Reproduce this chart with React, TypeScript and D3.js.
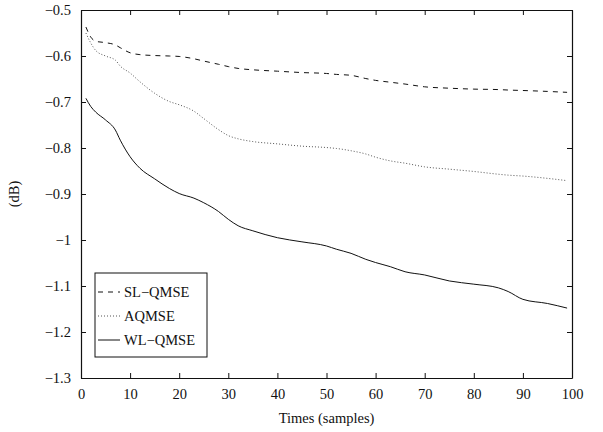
import React, { useEffect, useRef } from "react";
import * as d3 from "d3";

// sample positions and read-off values (dB)
const samples = [1, 2, 3, 5, 7, 8, 10, 12, 15, 18, 20, 23, 25, 28, 30, 32, 35, 40, 45, 50, 52, 55, 58, 60, 63, 66, 70, 75, 80, 85, 87, 90, 95, 99];
const slQmse = [-0.537, -0.559, -0.568, -0.571, -0.576, -0.582, -0.593, -0.597, -0.599, -0.6, -0.601, -0.606, -0.611, -0.618, -0.623, -0.627, -0.63, -0.633, -0.636, -0.638, -0.64, -0.642, -0.649, -0.653, -0.657, -0.661, -0.667, -0.67, -0.672, -0.673, -0.674, -0.675, -0.677, -0.679];
const aQmse = [-0.55, -0.572, -0.588, -0.6, -0.609, -0.622, -0.637, -0.656, -0.681, -0.699, -0.706, -0.72, -0.736, -0.76, -0.773, -0.78, -0.786, -0.791, -0.796, -0.799, -0.801, -0.806, -0.813, -0.82, -0.828, -0.833, -0.841, -0.846, -0.851, -0.857, -0.859, -0.861, -0.866, -0.871];
const wlQmse = [-0.692, -0.71, -0.722, -0.739, -0.761, -0.783, -0.819, -0.844, -0.867, -0.888, -0.899, -0.909, -0.919, -0.938, -0.955, -0.969, -0.98, -0.995, -1.004, -1.013, -1.02, -1.029, -1.042, -1.049, -1.058, -1.069, -1.076, -1.089, -1.096, -1.104, -1.112, -1.129, -1.138, -1.148];

const seriesNames = ["SL\u2212QMSE", "AQMSE", "WL\u2212QMSE"];
const xTicks = [0, 10, 20, 30, 40, 50, 60, 70, 80, 90, 100];
const yTicks = [-0.5, -0.6, -0.7, -0.8, -0.9, -1, -1.1, -1.2, -1.3];
const yTickLabels = ["\u22120.5", "\u22120.6", "\u22120.7", "\u22120.8", "\u22120.9", "\u22121", "\u22121.1", "\u22121.2", "\u22121.3"];

export default function App() {
  const ref = useRef<SVGSVGElement>(null);

  useEffect(() => {
    const width = 603;
    const height = 432;
    const left = 81, right = 572, top = 10, bottom = 378;
    const font = "'Liberation Serif', 'DejaVu Serif', serif";
    const fs = "14.5px";

    const svg = d3.select(ref.current);
    svg.selectAll("*").remove();
    svg.attr("width", width).attr("height", height).style("font-family", font);

    const x = d3.scaleLinear().domain([0, 100]).range([left, right]);
    const y = d3.scaleLinear().domain([-1.3, -0.5]).range([bottom, top]);

    const styles = [
      { dash: "5,5", color: "#111", w: 1 },
      { dash: "1,2", color: "#555", w: 1 },
      { dash: null, color: "#111", w: 1 },
    ];
    const all = [slQmse, aQmse, wlQmse];

    const line = d3
      .line<number>()
      .x((d, i) => x(samples[i]))
      .y((d) => y(d))
      .curve(d3.curveMonotoneX);

    all.forEach((vals, k) => {
      svg
        .append("path")
        .datum(vals)
        .attr("fill", "none")
        .attr("stroke", styles[k].color)
        .attr("stroke-width", styles[k].w)
        .attr("stroke-dasharray", styles[k].dash)
        .attr("d", line);
    });

    // axes, ticks pointing inward
    const fmtY = (d: any, i: number) => yTickLabels[i];
    const bottomAx = svg
      .append("g")
      .attr("transform", `translate(0,${bottom})`)
      .call(d3.axisBottom(x).tickValues(xTicks).tickSizeInner(-5).tickSizeOuter(0).tickPadding(11).tickFormat(d3.format("d")));
    const topAx = svg
      .append("g")
      .attr("transform", `translate(0,${top})`)
      .call(d3.axisTop(x).tickValues(xTicks).tickSizeInner(-5).tickSizeOuter(0).tickFormat(() => ""));
    const leftAx = svg
      .append("g")
      .attr("transform", `translate(${left},0)`)
      .call(d3.axisLeft(y).tickValues(yTicks).tickSizeInner(-5).tickSizeOuter(0).tickPadding(10).tickFormat(fmtY));
    const rightAx = svg
      .append("g")
      .attr("transform", `translate(${right},0)`)
      .call(d3.axisRight(y).tickValues(yTicks).tickSizeInner(-5).tickSizeOuter(0).tickFormat(() => ""));

    [bottomAx, topAx, leftAx, rightAx].forEach((g) => {
      g.attr("font-family", null).attr("font-size", null);
      g.select(".domain").attr("stroke", "#111").attr("stroke-width", 1.2);
      g.selectAll(".tick line").attr("stroke", "#111");
      g.selectAll(".tick text").attr("fill", "#111").style("font-family", font).style("font-size", fs);
    });

    svg
      .append("text")
      .attr("x", (left + right) / 2)
      .attr("y", 423)
      .attr("text-anchor", "middle")
      .style("font-family", font)
      .style("font-size", fs)
      .attr("fill", "#111")
      .text("Times (samples)");

    svg
      .append("text")
      .attr("transform", `translate(19,${(top + bottom) / 2}) rotate(-90)`)
      .attr("text-anchor", "middle")
      .style("font-family", font)
      .style("font-size", fs)
      .attr("fill", "#111")
      .text("(dB)");

    // legend
    const lg = svg.append("g");
    lg.append("rect")
      .attr("x", 95)
      .attr("y", 273)
      .attr("width", 112)
      .attr("height", 84)
      .attr("fill", "white")
      .attr("stroke", "#111")
      .attr("stroke-width", 1);
    seriesNames.forEach((name, k) => {
      const ly = 292 + k * 24;
      lg.append("line")
        .attr("x1", 98)
        .attr("x2", 120)
        .attr("y1", ly)
        .attr("y2", ly)
        .attr("stroke", styles[k].color)
        .attr("stroke-width", styles[k].w)
        .attr("stroke-dasharray", styles[k].dash);
      lg.append("text")
        .attr("x", 124)
        .attr("y", ly + 5)
        .style("font-family", font)
        .style("font-size", fs)
        .attr("fill", "#111")
        .text(name);
    });
  }, []);

  return (
    <div>
      <svg ref={ref} style={{ position: "absolute", left: 0, top: 0, background: "white" }} />
    </div>
  );
}
